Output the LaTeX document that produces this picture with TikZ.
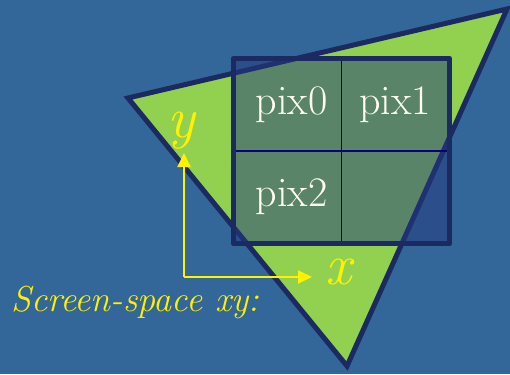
\documentclass[tikz,border=0pt]{standalone}
\usetikzlibrary{arrows.meta}
\definecolor{slideblue}{HTML}{336699}
\definecolor{trigreen}{HTML}{92D050}
\definecolor{edgenavy}{HTML}{1C2A62}
\definecolor{gridnavy}{HTML}{000080}
\definecolor{shade}{RGB}{35,57,126}
\definecolor{pixwhite}{HTML}{FFFFF0}
\tikzset{
  cell/.style={draw=gridnavy, line width=1.5pt, fill=shade, fill opacity=0.5,
    text opacity=1, minimum width=107.5pt, minimum height=92pt, inner sep=0pt,
    text=pixwhite, font=\fontsize{42}{44}\selectfont},
  axis/.style={yellow, line width=2pt, -{Triangle[length=14pt,width=13pt]}},
  axislabel/.style={yellow, font=\itshape\fontsize{58}{60}\selectfont}
}
\begin{document}
\begin{tikzpicture}[x=1pt,y=-1pt]
\fill[slideblue] (0,0) rectangle (510,374);
\useasboundingbox (0,0) rectangle (510,374);
\coordinate (tl) at (128,98);
\coordinate (tr) at (507,9);
\coordinate (bt) at (347,366);
\filldraw[fill=trigreen, draw=edgenavy, line width=5pt, line join=miter] (tl) -- (tr) -- (bt) -- cycle;
\node[cell] (pix0) at (287.75,105) {\hspace{8pt}\raisebox{3pt}{pix0}};
\node[cell] (pix1) at (395.25,105) {\raisebox{3pt}{pix1}};
\node[cell] (pix2) at (287.75,197) {\hspace{8pt}\raisebox{3pt}{pix2}};
\node[cell] (pix3) at (395.25,197) {};
\draw[edgenavy, line width=5pt, line join=round] (pix0.north west) rectangle (pix3.south east);
\coordinate (org) at (184,277);
\coordinate (ytip) at (184,153);
\coordinate (xtip) at (312,277);
\draw[axis] (org) -- (ytip);
\draw[axis] (org) -- (xtip);
\node[axislabel] (ylab) at (181,131) {y};
\node[axislabel] (xlab) at (339,272) {x};
\node[anchor=base west, yellow, font=\itshape\fontsize{36}{40}\selectfont, inner sep=0pt] (title) at (11,311) {Screen-space xy:};
\end{tikzpicture}
\end{document}
